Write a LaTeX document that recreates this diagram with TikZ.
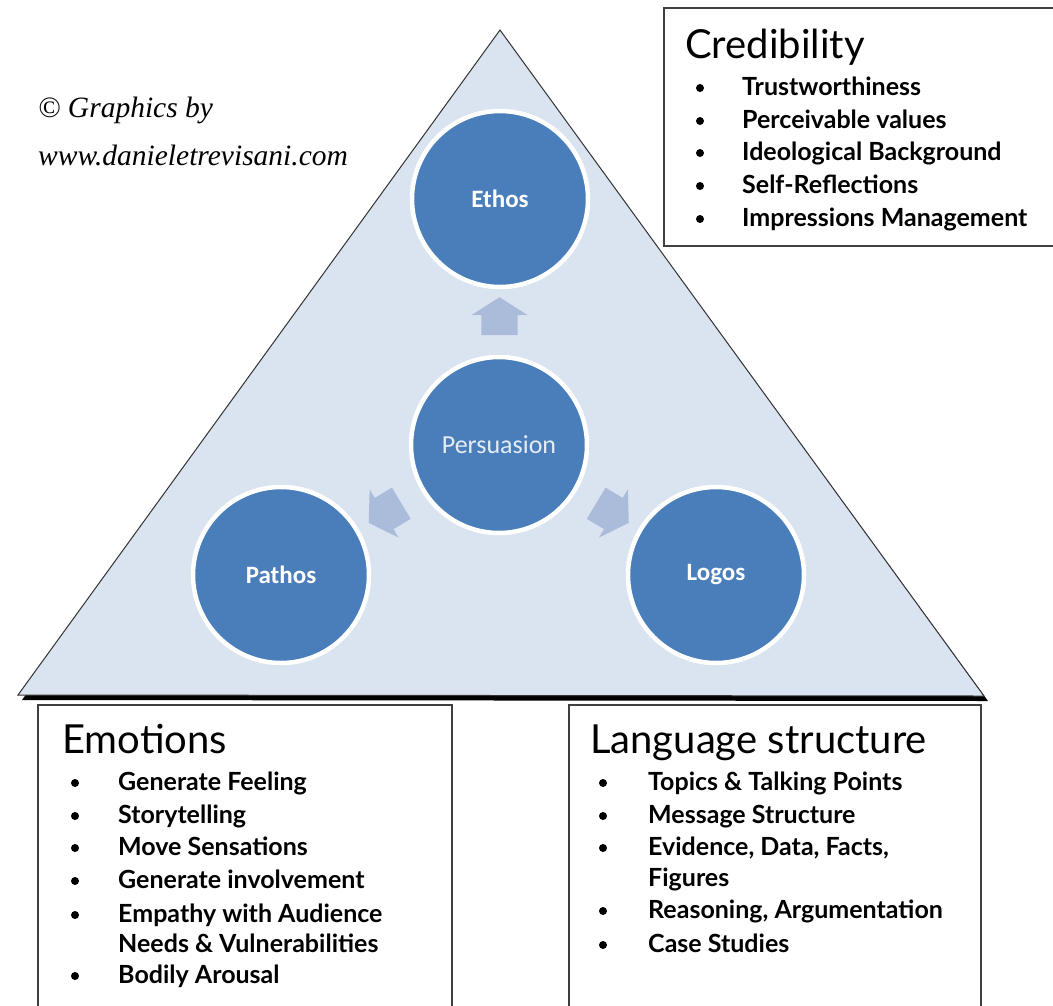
\documentclass[tikz,border=0pt]{standalone}
\usepackage{fontspec}
\newfontfamily\boxfont{Lato}
\newfontfamily\circfont{Carlito}
\newfontfamily\notefont{Liberation Serif}
\usetikzlibrary{positioning,calc,shapes.arrows}
\definecolor{triblue}{HTML}{DAE3F0}
\definecolor{circblue}{HTML}{4A7EBB}
\definecolor{arrblue}{HTML}{ABBCDA}
\definecolor{boxline}{HTML}{404040}

\begin{document}
\begin{tikzpicture}[x=1pt, y=-1pt,
	circ/.style={circle, fill=circblue, draw=white, line width=4.5pt, minimum size=176pt, inner sep=0pt, text=white, font=\circfont\bfseries\fontsize{25}{25}\selectfont},
	blockarrow/.style={single arrow, fill=arrblue, draw=none, minimum height=38pt, minimum width=56pt, single arrow head extend=10pt, single arrow tip angle=115, inner xsep=0pt, inner ysep=18pt},
	listbox/.style={draw=boxline, line width=1.2pt},
	heading/.style={anchor=base west, inner sep=0pt, font=\boxfont\fontsize{40}{40}\selectfont},
	item/.style={anchor=base west, inner sep=0pt, font=\boxfont\bfseries\fontsize{25}{25}\selectfont},
	note/.style={anchor=base west, inner sep=0pt, font=\notefont\itshape\fontsize{29.5}{29.5}\selectfont}]

	\useasboundingbox (0,0) rectangle (1053,1005);

	\fill[black] (503,35) -- (988,701) -- (22,700) -- cycle;
	\filldraw[fill=triblue, draw=black!80, line width=1pt] (500,30) -- (984,696) -- (18,695) -- cycle;

	\node[note] (copy) at (38,117) {\textcopyright{} Graphics by};
	\node[note] (site) at (38,165) {www.danieletrevisani.com};

	\node[circ] (ethos) at (500,199) {Ethos};
	\node[circ, font=\circfont\fontsize{26}{26}\selectfont, text=white!85!circblue] (pers) at (499,445) {Persuasion};
	\node[circ] (pathos) at (281,575) {Pathos};
	\node[circ] (logos) at (716,575) {Logos};

	\node[blockarrow, rotate=90] (toethos) at ($(pers)!0.5!(ethos)$) {};
	\node[blockarrow, rotate=-31] (tologos) at ($(pers)!0.5!(logos)$) {};
	\node[blockarrow, rotate=211] (topathos) at ($(pers)!0.5!(pathos)$) {};

	\draw[listbox] (664,8) rectangle (1060,246);
	\draw[listbox] (38,1010) |- (452,705) -- (452,1010);
	\draw[listbox] (569,1010) |- (981,705) -- (981,1010);

	\node[heading] (cred) at (685,58) {Credibility};
	\node[heading] (emo) at (62,753) {Emotions};
	\node[heading] (lang) at (590,753) {Language structure};

	\foreach \y/\txt in {95/Trustworthiness, 128/Perceivable values, 160/Ideological Background, 193/Self-Reflections, 226/Impressions Management}
		{\fill (700,\y-7) circle (4);
		\node[item] (cred-\y) at (742,\y) {\txt};}
	\foreach \y/\txt in {790/Generate Feeling, 823/Storytelling, 855/Move Sensations, 888/Generate involvement, 922/Empathy with Audience, 983/Bodily Arousal}
		{\fill (75,\y-7) circle (4);
		\node[item] (emo-\y) at (118,\y) {\txt};}
	\node[item] (emo-952) at (118,952) {Needs \& Vulnerabilities};
	\foreach \y/\txt in {790/Topics \& Talking Points, 823/Message Structure, 855/{Evidence, Data, Facts,}, 918/{Reasoning, Argumentation}, 952/Case Studies}
		{\fill (603,\y-7) circle (4);
		\node[item] (lang-\y) at (648,\y) {\txt};}
	\node[item] (lang-886) at (648,886) {Figures};
\end{tikzpicture}
\end{document}
